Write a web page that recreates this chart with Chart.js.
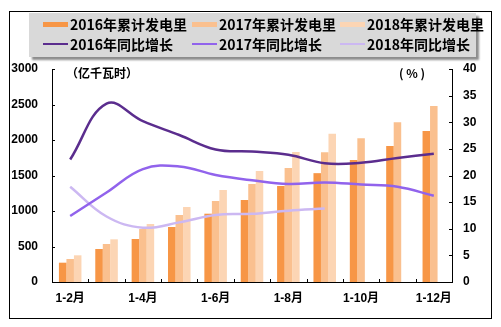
<!DOCTYPE html>
<html>
<head>
<meta charset="utf-8">
<script src="https://cdn.jsdelivr.net/npm/chart.js@4/dist/chart.umd.min.js"></script>
<style>
  html, body { margin: 0; padding: 0; background: #fff; }
  #wrap { position: relative; width: 501px; height: 327px; font-family: "Liberation Sans", "Noto Sans CJK SC", sans-serif; }
  #frame { position: absolute; left: 9px; top: 11px; width: 483px; height: 308px; border: 1px solid #000; box-sizing: border-box; }
  #legend { position: absolute; left: 29px; top: 13px; width: 447px; height: 44px; background: #d9d9d9; box-shadow: 3px 3px 2px #8c8c8c; }
  .item { position: absolute; height: 18px; display: flex; align-items: center; font: bold 14px "Noto Sans CJK SC", sans-serif; color: #000; white-space: nowrap; }
  .sw { width: 25px; margin-right: 2px; }
  .unit { position: absolute; top: 64px; font: bold 12px "Noto Sans CJK SC", sans-serif; color: #000; }
  canvas { position: absolute; left: 0; top: 0; }
</style>
</head>
<body>
<div id="wrap">
  <canvas id="chart" width="501" height="327"></canvas>
  <div id="frame"></div>
  <div id="legend"></div>
  <div class="unit" style="left:66px">（亿千瓦时）</div>
  <div class="unit" style="left:399px">( % )</div>
</div>
<script>
const categories = ['1-2月', '1-3月', '1-4月', '1-5月', '1-6月', '1-7月', '1-8月', '1-9月', '1-10月', '1-11月', '1-12月'];
const gen2016 = [272, 465, 606, 775, 962, 1155, 1352, 1533, 1718, 1915, 2127];
const gen2017 = [324, 535, 746, 944, 1141, 1380, 1606, 1829, 2026, 2249, 2479];
const gen2018 = [376, 601, 817, 1056, 1296, 1563, 1831, 2087, null, null, null];
const yoy2016 = [23.0, 33.5, 30.2, 27.6, 24.9, 24.5, 23.9, 22.3, 22.4, 23.3, 24.1];
const yoy2017 = [12.4, 16.8, 21.2, 21.7, 20.1, 19.1, 18.4, 18.7, 18.3, 17.9, 16.2];
const yoy2018 = [17.9, 12.3, 10.2, 11.2, 12.6, 12.8, 13.4, 13.8, null, null, null];

const seriesNames = ['2016年累计发电里', '2017年累计发电里', '2018年累计发电里', '2016年同比增长', '2017年同比增长', '2018年同比增长'];
const colors = ['#f79646', '#fac08f', '#fcd5b4', '#5b2d8e', '#9163ec', '#ccb8f2'];

// legend (html, so it keeps the grey box with shadow)
const legendPos = [[14, 2], [163, 2], [311, 2], [14, 22], [163, 22], [311, 22]];
const legend = document.getElementById('legend');
seriesNames.forEach((name, i) => {
    const item = document.createElement('div');
    item.className = 'item';
    item.style.left = legendPos[i][0] + 'px';
    item.style.top = legendPos[i][1] + 'px';
    const sw = document.createElement('span');
    sw.className = 'sw';
    sw.style.background = colors[i];
    sw.style.height = i < 3 ? '5px' : '2px';
    item.appendChild(sw);
    item.appendChild(document.createTextNode(name));
    legend.appendChild(item);
});

// small inward tick marks like the original
const innerTicks = {
    id: 'innerTicks',
    afterDraw(chart) {
        const { ctx, chartArea, scales } = chart;
        ctx.save();
        ctx.strokeStyle = '#000';
        ctx.lineWidth = 1;
        ctx.beginPath();
        scales.y.ticks.forEach((t) => {
            const py = Math.round(scales.y.getPixelForValue(t.value)) + 0.5;
            ctx.moveTo(chartArea.left, py);
            ctx.lineTo(chartArea.left + 3, py);
        });
        scales.y1.ticks.forEach((t) => {
            const py = Math.round(scales.y1.getPixelForValue(t.value)) + 0.5;
            ctx.moveTo(chartArea.right, py);
            ctx.lineTo(chartArea.right - 3, py);
        });
        for (let i = 0; i < categories.length - 1; i++) {
            const px = Math.round((scales.x.getPixelForValue(i) + scales.x.getPixelForValue(i + 1)) / 2) + 0.5;
            ctx.moveTo(px, chartArea.bottom);
            ctx.lineTo(px, chartArea.bottom - 3);
        }
        ctx.stroke();
        ctx.restore();
    },
};

const tickFont = { family: '"Liberation Sans", "Noto Sans CJK SC", sans-serif', size: 12, weight: 'bold' };

const barSet = (i, data) => ({
    type: 'bar',
    label: seriesNames[i],
    data,
    backgroundColor: colors[i],
    yAxisID: 'y',
    categoryPercentage: 0.62,
    barPercentage: 1.0,
    order: 2,
});

const lineSet = (i, data) => ({
    type: 'line',
    label: seriesNames[i],
    data,
    borderColor: colors[i],
    borderWidth: 2.5,
    pointRadius: 0,
    tension: 0.4,
    fill: false,
    yAxisID: 'y1',
    order: 1,
});

new Chart(document.getElementById('chart'), {
    data: {
        labels: categories,
        datasets: [
            barSet(0, gen2016),
            barSet(1, gen2017),
            barSet(2, gen2018),
            lineSet(3, yoy2016),
            lineSet(4, yoy2017),
            lineSet(5, yoy2018),
        ],
    },
    options: {
        responsive: false,
        animation: false,
        devicePixelRatio: 1,
        layout: { padding: { top: 69, left: 0, right: 0, bottom: 0 } },
        plugins: {
            legend: { display: false },
            tooltip: { enabled: false },
        },
        scales: {
            x: {
                grid: { display: false, drawTicks: false },
                border: { color: '#000', width: 1 },
                ticks: {
                    color: '#000',
                    font: tickFont,
                    padding: 9,
                    autoSkip: false,
                    maxRotation: 0,
                    callback: (v, i) => (i % 2 === 0 ? categories[i] : ''),
                },
                afterFit: (scale) => { scale.height = 45; },
            },
            y: {
                position: 'left',
                min: 0,
                max: 3000,
                grid: { display: false, drawTicks: false },
                border: { color: '#000', width: 1 },
                ticks: { stepSize: 500, color: '#000', font: tickFont, padding: 14, callback: (v) => String(v) },
                afterFit: (scale) => { scale.width = 52; },
            },
            y1: {
                position: 'right',
                min: 0,
                max: 40,
                grid: { display: false, drawTicks: false },
                border: { color: '#000', width: 1 },
                ticks: { stepSize: 5, color: '#000', font: tickFont, padding: 11, callback: (v) => String(v) },
                afterFit: (scale) => { scale.width = 49; },
            },
        },
    },
    plugins: [innerTicks],
});
</script>
</body>
</html>
